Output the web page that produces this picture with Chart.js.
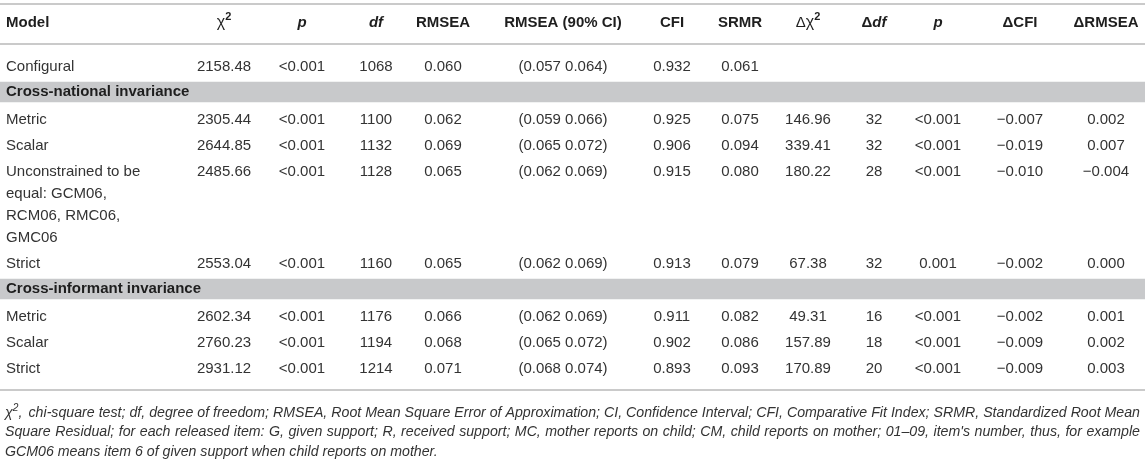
<!DOCTYPE html>
<html>
<head>
<meta charset="utf-8">
<script src="https://cdn.jsdelivr.net/npm/chart.js@4.4.1/dist/chart.umd.min.js"></script>
<style>
    html, body { margin: 0; padding: 0; background: #fff; }
    #wrap { width: 1145px; height: 462px; }
</style>
</head>
<body>
<div id="wrap"><canvas id="fitTable" width="1145" height="462"></canvas></div>
<script>
// Table content
const headerLabels = ["Model", "χ2", "p", "df", "RMSEA", "RMSEA (90% CI)", "CFI", "SRMR", "Δχ2", "Δdf", "p", "ΔCFI", "ΔRMSEA"];
const sections = ["Cross-national invariance", "Cross-informant invariance"];
const models = ["Configural", "Metric", "Scalar", "Unconstrained to be equal: GCM06, RCM06, RMC06, GMC06", "Strict", "Metric", "Scalar", "Strict"];
const rowSection = [-1, 0, 0, 0, 0, 1, 1, 1];

const chiSq = ["2158.48", "2305.44", "2644.85", "2485.66", "2553.04", "2602.34", "2760.23", "2931.12"];
const pValues = ["<0.001", "<0.001", "<0.001", "<0.001", "<0.001", "<0.001", "<0.001", "<0.001"];
const dfValues = ["1068", "1100", "1132", "1128", "1160", "1176", "1194", "1214"];
const rmsea = ["0.060", "0.062", "0.069", "0.065", "0.065", "0.066", "0.068", "0.071"];
const rmseaCI = ["(0.057 0.064)", "(0.059 0.066)", "(0.065 0.072)", "(0.062 0.069)", "(0.062 0.069)", "(0.062 0.069)", "(0.065 0.072)", "(0.068 0.074)"];
const cfi = ["0.932", "0.925", "0.906", "0.915", "0.913", "0.911", "0.902", "0.893"];
const srmr = ["0.061", "0.075", "0.094", "0.080", "0.079", "0.082", "0.086", "0.093"];
const deltaChiSq = ["", "146.96", "339.41", "180.22", "67.38", "49.31", "157.89", "170.89"];
const deltaDf = ["", "32", "32", "28", "32", "16", "18", "20"];
const deltaP = ["", "<0.001", "<0.001", "<0.001", "0.001", "<0.001", "<0.001", "<0.001"];
const deltaCfi = ["", "−0.007", "−0.019", "−0.010", "−0.002", "−0.002", "−0.009", "−0.009"];
const deltaRmsea = ["", "0.002", "0.007", "−0.004", "0.000", "0.001", "0.002", "0.003"];

const footnote = [
    "χ2, chi-square test; df, degree of freedom; RMSEA, Root Mean Square Error of Approximation; CI, Confidence Interval; CFI, Comparative Fit Index; SRMR, Standardized Root Mean",
    "Square Residual; for each released item: G, given support; R, received support; MC, mother reports on child; CM, child reports on mother; 01–09, item's number, thus, for example",
    "GCM06 means item 6 of given support when child reports on mother."
];

// Layout
const W = 1145, H = 462;
const FONT = '"Liberation Sans", Arial, Helvetica, sans-serif';
const FS = 15;
const colX = [6, 224, 302, 376, 443, 563, 672, 740, 808, 874, 938, 1020, 1106];
const TOP_RULE = 4, HEAD_Y = 23, HEAD_RULE = 44, FIRST_ROW = 67;
const ROW_STEP = 26, LINE_STEP = 22, BAND_BEFORE = 25, BAND_AFTER = 28, BAND_H = 20;
const MODEL_WRAP = 150;
const TEXT_COLOR = "#333333", HEAD_COLOR = "#1e1e1e", RULE_COLOR = "#b8b8b8", BAND_COLOR = "#c8c9cb";

function wrapText(ctx, text, maxW) {
    const words = text.split(" ");
    const lines = [];
    let line = "";
    words.forEach(w => {
        const test = line ? line + " " + w : w;
        if (line && ctx.measureText(test).width > maxW) {
            lines.push(line);
            line = w;
        } else {
            line = test;
        }
    });
    if (line) lines.push(line);
    return lines;
}

const measureCtx = document.createElement("canvas").getContext("2d");
measureCtx.font = FS + "px " + FONT;
const modelLines = models.map(m => wrapText(measureCtx, m, MODEL_WRAP));

// Row and band centers
const rowY = [];
const bandY = [];
let cursor = FIRST_ROW;
models.forEach((m, i) => {
    if (i > 0) {
        if (rowSection[i] !== rowSection[i - 1]) {
            const b = cursor + BAND_BEFORE;
            bandY.push(b);
            cursor = b + BAND_AFTER;
        } else {
            cursor += ROW_STEP;
        }
    }
    rowY.push(cursor);
    cursor += LINE_STEP * (modelLines[i].length - 1);
});
const BOTTOM_RULE = cursor + 21;
const FOOT_Y = BOTTOM_RULE + 23, FOOT_STEP = 19.5, FOOT_W = 1135;

const cellColumns = [chiSq, pValues, dfValues, rmsea, rmseaCI, cfi, srmr, deltaChiSq, deltaDf, deltaP, deltaCfi, deltaRmsea];

// Split a header label into styled pieces
function headerPieces(label) {
    if (label.endsWith("χ2")) {
        const pre = label.slice(0, -2);
        const out = [];
        if (pre) out.push({ t: pre, font: FS + "px " + FONT });
        out.push({ t: "χ", font: (FS + 1) + "px " + FONT });
        out.push({ t: "2", font: "bold 11px " + FONT, sup: true });
        return out;
    }
    if (label === "p" || label === "df") return [{ t: label, font: "italic bold " + FS + "px " + FONT }];
    if (label.startsWith("Δ") && label.slice(1) === "df") {
        return [{ t: "Δ", font: "bold " + FS + "px " + FONT }, { t: "df", font: "italic bold " + FS + "px " + FONT }];
    }
    return [{ t: label, font: "bold " + FS + "px " + FONT }];
}

function drawPieces(ctx, pieces, x, y, align) {
    let total = 0;
    pieces.forEach(p => { ctx.font = p.font; p.w = ctx.measureText(p.t).width; total += p.w; });
    let cx = align === "left" ? x : x - total / 2;
    ctx.textAlign = "left";
    pieces.forEach(p => {
        ctx.font = p.font;
        ctx.fillText(p.t, cx, p.sup ? y - 6 : y);
        cx += p.w;
    });
}

const tableText = {
    id: "tableText",
    afterDatasetsDraw(chart) {
        const { ctx } = chart;
        const xs = chart.scales.x, ys = chart.scales.y;
        ctx.save();
        ctx.textBaseline = "middle";

        // header
        ctx.fillStyle = HEAD_COLOR;
        headerLabels.forEach((h, c) => {
            drawPieces(ctx, headerPieces(h), xs.getPixelForValue(colX[c]), ys.getPixelForValue(HEAD_Y), c === 0 ? "left" : "center");
        });

        // section bands
        ctx.font = "bold " + FS + "px " + FONT;
        ctx.textAlign = "left";
        bandY.forEach((b, k) => {
            ctx.fillText(sections[k], xs.getPixelForValue(colX[0]), ys.getPixelForValue(b));
        });

        // body rows
        ctx.fillStyle = TEXT_COLOR;
        ctx.font = FS + "px " + FONT;
        models.forEach((m, i) => {
            ctx.textAlign = "left";
            modelLines[i].forEach((ln, j) => {
                ctx.fillText(ln, xs.getPixelForValue(colX[0]), ys.getPixelForValue(rowY[i] + j * LINE_STEP));
            });
            ctx.textAlign = "center";
            cellColumns.forEach((col, c) => {
                if (col[i]) ctx.fillText(col[i], xs.getPixelForValue(colX[c + 1]), ys.getPixelForValue(rowY[i]));
            });
        });

        // footnote, justified except the last line
        let size = 13;
        ctx.font = "italic " + size + "px " + FONT;
        const widest = Math.max(...footnote.slice(0, -1).map(l => ctx.measureText(l).width));
        size = size * FOOT_W / widest;
        const fFont = "italic " + size + "px " + FONT;
        const supFont = "italic " + (size * 0.72) + "px " + FONT;
        ctx.textAlign = "left";
        footnote.forEach((line, li) => {
            const y = ys.getPixelForValue(FOOT_Y + li * FOOT_STEP);
            const words = line.split(" ");
            ctx.font = fFont;
            const space = ctx.measureText(" ").width;
            const widths = words.map(w => ctx.measureText(w).width);
            const natural = widths.reduce((a, b) => a + b, 0) + space * (words.length - 1);
            const gap = li < footnote.length - 1 ? space + (FOOT_W - natural) / (words.length - 1) : space;
            let x = xs.getPixelForValue(colX[0] - 1);
            words.forEach((w, k) => {
                if (w.startsWith("χ2")) {
                    ctx.font = fFont;
                    ctx.fillText("χ", x, y);
                    const cw = ctx.measureText("χ").width;
                    ctx.font = supFont;
                    ctx.fillText("2", x + cw, y - 5);
                    const sw = ctx.measureText("2").width;
                    ctx.font = fFont;
                    ctx.fillText(w.slice(2), x + cw + sw, y);
                } else {
                    ctx.font = fFont;
                    ctx.fillText(w, x, y);
                }
                x += widths[k] + gap;
            });
        });
        ctx.restore();
    }
};

const ruleSet = [TOP_RULE, HEAD_RULE, BOTTOM_RULE].map(r => ({
    type: "line",
    data: [{ x: 0, y: r }, { x: W, y: r }],
    borderColor: RULE_COLOR,
    borderWidth: 1.5,
    pointRadius: 0,
    fill: false
}));

new Chart(document.getElementById("fitTable"), {
    type: "scatter",
    data: {
        datasets: [
            {
                type: "bar",
                indexAxis: "y",
                data: bandY.map(b => ({ y: b, x: [0, W] })),
                backgroundColor: BAND_COLOR,
                borderWidth: 0,
                barThickness: BAND_H
            },
            ...ruleSet
        ]
    },
    options: {
        responsive: false,
        animation: false,
        layout: { padding: 0 },
        plugins: { legend: { display: false }, tooltip: { enabled: false } },
        scales: {
            x: { type: "linear", min: 0, max: W, display: false, offset: false, grid: { offset: false } },
            y: { type: "linear", min: 0, max: H, reverse: true, display: false, offset: false, grid: { offset: false } }
        }
    },
    plugins: [tableText]
});
</script>
</body>
</html>
